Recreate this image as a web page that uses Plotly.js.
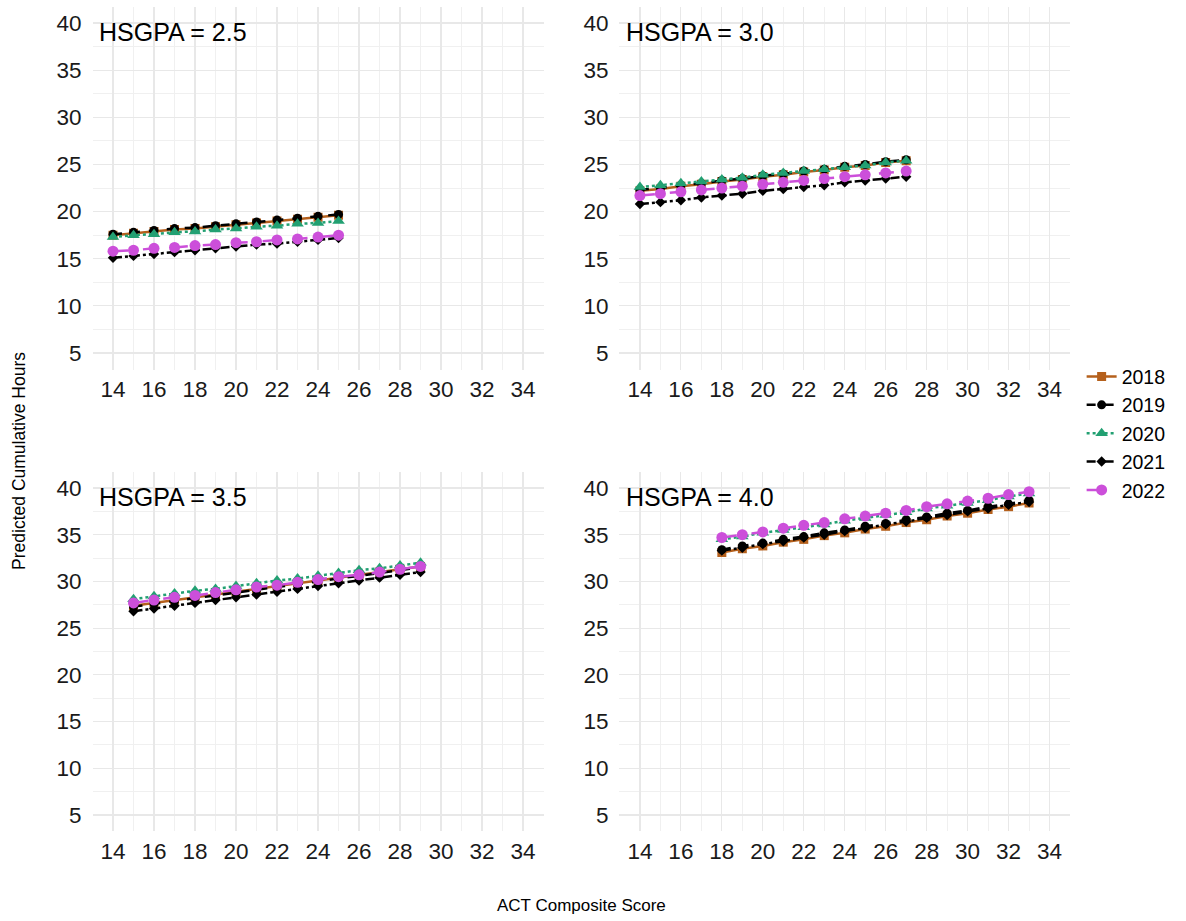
<!DOCTYPE html>
<html>
<head>
<meta charset="utf-8">
<script src="https://cdn.plot.ly/plotly-3.0.1.min.js"></script>
<style>html,body{margin:0;padding:0;background:#fff;}#chart{width:1186px;height:921px;}</style>
</head>
<body>
<div id="chart"></div>
<script>
// ---- Data ----
const years = ["2018", "2019", "2020", "2021", "2022"];
const panelLabels = ["HSGPA = 2.5", "HSGPA = 3.0", "HSGPA = 3.5", "HSGPA = 4.0"];
const xTicks = [14, 16, 18, 20, 22, 24, 26, 28, 30, 32, 34];
const yTicks = [5, 10, 15, 20, 25, 30, 35, 40];

const actP1 = [14, 15, 16, 17, 18, 19, 20, 21, 22, 23, 24, 25];
const p1_2018 = [17.5, 17.7, 17.9, 18.1, 18.2, 18.4, 18.6, 18.8, 19.0, 19.2, 19.4, 19.6];
const p1_2019 = [17.6, 17.8, 18.0, 18.2, 18.3, 18.5, 18.7, 18.9, 19.1, 19.3, 19.5, 19.7];
const p1_2020 = [17.3, 17.5, 17.6, 17.8, 17.9, 18.1, 18.2, 18.4, 18.5, 18.7, 18.8, 19.0];
const p1_2021 = [15.1, 15.3, 15.5, 15.7, 15.9, 16.1, 16.3, 16.5, 16.6, 16.8, 17.0, 17.2];
const p1_2022 = [15.8, 15.9, 16.1, 16.2, 16.4, 16.5, 16.7, 16.8, 17.0, 17.1, 17.3, 17.5];

const actP2 = [14, 15, 16, 17, 18, 19, 20, 21, 22, 23, 24, 25, 26, 27];
const p2_2018 = [22.2, 22.4, 22.7, 22.9, 23.2, 23.4, 23.7, 23.9, 24.2, 24.4, 24.7, 24.9, 25.2, 25.4];
const p2_2019 = [22.3, 22.5, 22.8, 23.0, 23.3, 23.5, 23.8, 24.0, 24.3, 24.5, 24.8, 25.0, 25.3, 25.5];
const p2_2020 = [22.6, 22.8, 23.0, 23.2, 23.4, 23.6, 23.9, 24.1, 24.3, 24.5, 24.7, 24.9, 25.2, 25.4];
const p2_2021 = [20.8, 21.0, 21.2, 21.5, 21.7, 21.9, 22.2, 22.4, 22.6, 22.8, 23.1, 23.3, 23.5, 23.7];
const p2_2022 = [21.7, 21.9, 22.1, 22.3, 22.5, 22.7, 22.9, 23.1, 23.3, 23.5, 23.7, 23.9, 24.1, 24.3];

const actP3 = [15, 16, 17, 18, 19, 20, 21, 22, 23, 24, 25, 26, 27, 28, 29];
const p3_2018 = [27.4, 27.7, 28.0, 28.3, 28.6, 28.9, 29.2, 29.5, 29.8, 30.1, 30.4, 30.7, 31.0, 31.3, 31.6];
const p3_2019 = [27.3, 27.6, 27.9, 28.2, 28.5, 28.8, 29.1, 29.4, 29.7, 30.0, 30.3, 30.6, 30.9, 31.2, 31.5];
const p3_2020 = [28.1, 28.4, 28.7, 29.0, 29.2, 29.5, 29.8, 30.1, 30.3, 30.6, 30.9, 31.2, 31.4, 31.7, 32.0];
const p3_2021 = [26.8, 27.1, 27.4, 27.7, 28.0, 28.3, 28.6, 28.9, 29.2, 29.5, 29.8, 30.1, 30.4, 30.7, 31.0];
const p3_2022 = [27.7, 28.0, 28.3, 28.5, 28.8, 29.1, 29.4, 29.6, 29.9, 30.2, 30.5, 30.7, 31.0, 31.3, 31.6];

const actP4 = [18, 19, 20, 21, 22, 23, 24, 25, 26, 27, 28, 29, 30, 31, 32, 33];
const p4_2018 = [33.1, 33.5, 33.8, 34.2, 34.5, 34.9, 35.2, 35.6, 35.9, 36.3, 36.6, 37.0, 37.3, 37.7, 38.0, 38.4];
const p4_2019 = [33.4, 33.8, 34.1, 34.5, 34.8, 35.2, 35.5, 35.9, 36.2, 36.6, 36.9, 37.3, 37.6, 38.0, 38.3, 38.7];
const p4_2020 = [34.5, 34.8, 35.2, 35.5, 35.8, 36.1, 36.5, 36.8, 37.1, 37.4, 37.8, 38.1, 38.4, 38.7, 39.1, 39.4];
const p4_2021 = [33.3, 33.6, 34.0, 34.3, 34.7, 35.0, 35.4, 35.7, 36.1, 36.4, 36.8, 37.1, 37.5, 37.8, 38.2, 38.5];
const p4_2022 = [34.7, 35.0, 35.3, 35.7, 36.0, 36.3, 36.7, 37.0, 37.3, 37.6, 38.0, 38.3, 38.6, 38.9, 39.3, 39.6];

// ---- Styles ----
const styles = {
  "2018": {color: "#B5601C", dash: "solid", symbol: "square", size: 9},
  "2019": {color: "#000000", dash: "dash", symbol: "circle", size: 9},
  "2020": {color: "#22A072", dash: "dot", symbol: "triangle-up", size: 11},
  "2021": {color: "#000000", dash: "dashdot", symbol: "diamond", size: 8},
  "2022": {color: "#CC4FDA", dash: "longdash", symbol: "circle", size: 11}
};

const panels = [
  {x: actP1, series: [p1_2018, p1_2019, p1_2020, p1_2021, p1_2022], xa: "x", ya: "y"},
  {x: actP2, series: [p2_2018, p2_2019, p2_2020, p2_2021, p2_2022], xa: "x2", ya: "y2"},
  {x: actP3, series: [p3_2018, p3_2019, p3_2020, p3_2021, p3_2022], xa: "x3", ya: "y3"},
  {x: actP4, series: [p4_2018, p4_2019, p4_2020, p4_2021, p4_2022], xa: "x4", ya: "y4"}
];

const traces = [];
panels.forEach((p, pi) => {
  years.forEach((yr, i) => {
    const s = styles[yr];
    traces.push({
      type: "scatter", mode: "lines+markers",
      x: p.x, y: p.series[i],
      xaxis: p.xa, yaxis: p.ya,
      name: yr, legendgroup: yr, showlegend: pi === 0,
      line: {color: s.color, dash: s.dash, width: 2.5},
      marker: {color: s.color, symbol: s.symbol, size: s.size}
    });
  });
});

const FONT = "Liberation Sans, Arial, Helvetica, sans-serif";
function xAxis(domain, anchor) {
  return {
    domain: domain, anchor: anchor, range: [13, 35],
    tickmode: "array", tickvals: xTicks, ticktext: xTicks.map(String),
    showgrid: true, gridcolor: "#e8e8e8", gridwidth: 1.2,
    minor: {tickmode: "linear", tick0: 13, dtick: 1, showgrid: true, gridcolor: "#f0f0f0", gridwidth: 1},
    zeroline: false, showline: false, ticks: "",
    tickfont: {family: FONT, size: 22.5, color: "#1a1a1a"},
    ticklabelstandoff: 4, fixedrange: true
  };
}
function yAxis(domain, anchor) {
  return {
    domain: domain, anchor: anchor, range: [3.25, 41.75],
    tickmode: "array", tickvals: yTicks, ticktext: yTicks.map(String),
    showgrid: true, gridcolor: "#e8e8e8", gridwidth: 1.2,
    minor: {tickmode: "linear", tick0: 2.5, dtick: 2.5, showgrid: true, gridcolor: "#f0f0f0", gridwidth: 1},
    zeroline: false, showline: false, ticks: "",
    tickfont: {family: FONT, size: 22.5, color: "#1a1a1a"},
    ticklabelstandoff: 10, fixedrange: true
  };
}

const xd1 = [0.078, 0.4583], xd2 = [0.5223, 0.9022];
const ydTop = [0.5988, 0.9929], ydBot = [0.0974, 0.4879];

const annotations = panels.map((p, i) => ({
  xref: p.xa, yref: p.ya, x: 13.2, y: 39, xanchor: "left", yanchor: "middle",
  text: panelLabels[i], showarrow: false,
  font: {family: FONT, size: 25, color: "#000"}
}));
annotations.push({
  xref: "paper", yref: "paper", x: 0.49, y: 0.017, xanchor: "center", yanchor: "middle",
  text: "ACT Composite Score", showarrow: false,
  font: {family: FONT, size: 17, color: "#000"}
});
annotations.push({
  xref: "paper", yref: "paper", x: 0.0155, y: 0.5, xanchor: "center", yanchor: "middle",
  text: "Predicted Cumulative Hours", showarrow: false, textangle: -90,
  font: {family: FONT, size: 17.5, color: "#000"}
});

const layout = {
  width: 1186, height: 921,
  margin: {l: 0, r: 0, t: 0, b: 0},
  paper_bgcolor: "#fff", plot_bgcolor: "#fff",
  font: {family: FONT},
  showlegend: true,
  legend: {
    x: 0.912, y: 0.612, xanchor: "left", yanchor: "top",
    font: {family: FONT, size: 19.5, color: "#000"},
    bgcolor: "rgba(0,0,0,0)", tracegroupgap: 0, itemwidth: 30
  },
  xaxis: xAxis(xd1, "y"), yaxis: yAxis(ydTop, "x"),
  xaxis2: xAxis(xd2, "y2"), yaxis2: yAxis(ydTop, "x2"),
  xaxis3: xAxis(xd1, "y3"), yaxis3: yAxis(ydBot, "x3"),
  xaxis4: xAxis(xd2, "y4"), yaxis4: yAxis(ydBot, "x4"),
  annotations: annotations
};

Plotly.newPlot("chart", traces, layout, {displayModeBar: false, staticPlot: true});
</script>
</body>
</html>
